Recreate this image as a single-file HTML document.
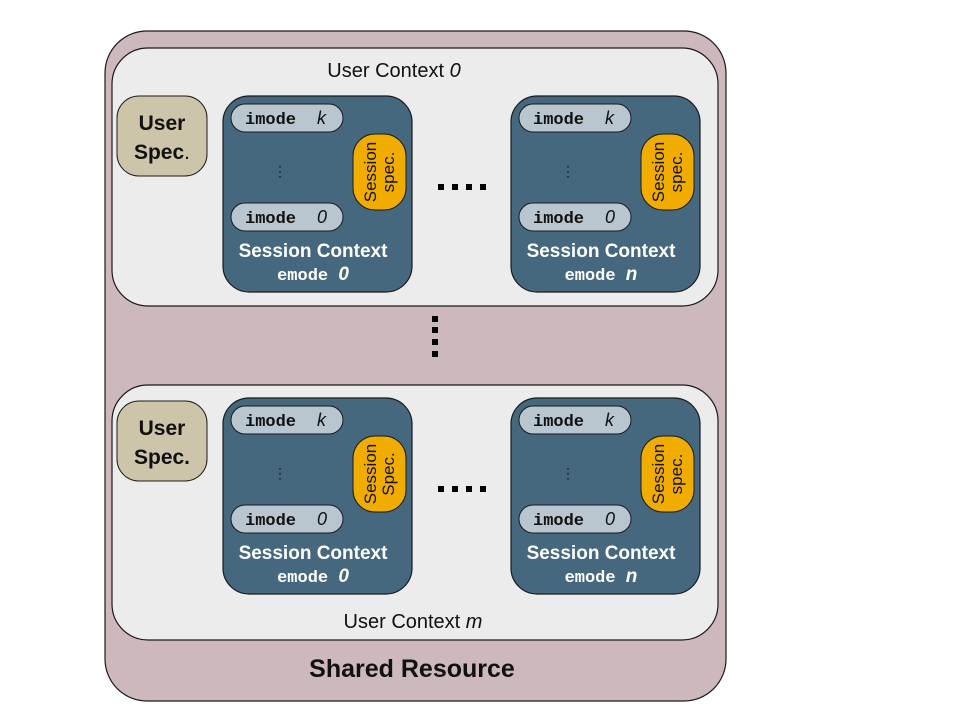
<!DOCTYPE html>
<html><head><meta charset="utf-8"><style>
html,body{margin:0;padding:0;background:#fff}
svg{display:block}
.sans{font-family:"Liberation Sans",sans-serif}
.mono{font-family:"Liberation Mono",monospace}
</style></head><body>
<svg width="960" height="720" viewBox="0 0 960 720" xmlns="http://www.w3.org/2000/svg">
<defs>
<g id="sc">
  <rect x="0" y="0" width="189" height="196" rx="26" fill="#45687e" stroke="#1a1a1a" stroke-width="1.2"/>
  <rect x="8" y="8" width="112" height="28" rx="14" fill="#b9c6cf" stroke="#1a1a1a" stroke-width="1"/>
  <text x="22" y="28" class="mono" font-size="17" font-weight="bold" fill="#111">imode</text>
  <text x="94" y="28" class="sans" font-size="18" font-style="italic" fill="#111">k</text>
  <rect x="8" y="107" width="112" height="28" rx="14" fill="#b9c6cf" stroke="#1a1a1a" stroke-width="1"/>
  <text x="22" y="127" class="mono" font-size="17" font-weight="bold" fill="#111">imode</text>
  <text x="94" y="127" class="sans" font-size="18" font-style="italic" fill="#111">0</text>
  <text x="57" y="80" class="sans" font-size="14" fill="#111" text-anchor="middle">⋮</text>
  <rect x="130" y="38" width="53" height="76" rx="22" fill="#f0ad00" stroke="#1a1a1a" stroke-width="1"/>
  <text x="90" y="161" class="sans" font-size="19" font-weight="bold" fill="#fff" text-anchor="middle">Session Context</text>
</g>
</defs>
<rect x="105" y="31" width="621" height="670" rx="42" fill="#cdb8bb" stroke="#1a1a1a" stroke-width="1.2"/>
<rect x="112" y="48" width="606" height="258" rx="36" fill="#ececec" stroke="#1a1a1a" stroke-width="1.2"/>
<rect x="112" y="385" width="606" height="255" rx="36" fill="#ececec" stroke="#1a1a1a" stroke-width="1.2"/>

<text x="394" y="77" class="sans" font-size="20" fill="#111" text-anchor="middle">User Context <tspan font-style="italic">0</tspan></text>
<text x="413" y="628" class="sans" font-size="20" fill="#111" text-anchor="middle">User Context <tspan font-style="italic">m</tspan></text>
<text x="412" y="677" class="sans" font-size="25" font-weight="bold" fill="#111" text-anchor="middle">Shared Resource</text>

<rect x="117" y="96" width="90" height="80" rx="22" fill="#cdc5a9" stroke="#1a1a1a" stroke-width="1"/>
<text x="162" y="130" class="sans" font-size="21" font-weight="bold" fill="#111" text-anchor="middle">User</text>
<text x="162" y="159" class="sans" font-size="21" font-weight="bold" fill="#111" text-anchor="middle">Spec<tspan font-weight="normal">.</tspan></text>
<rect x="117" y="401" width="90" height="80" rx="22" fill="#cdc5a9" stroke="#1a1a1a" stroke-width="1"/>
<text x="162" y="435" class="sans" font-size="21" font-weight="bold" fill="#111" text-anchor="middle">User</text>
<text x="162" y="464" class="sans" font-size="21" font-weight="bold" fill="#111" text-anchor="middle">Spec.</text>

<g transform="translate(223,96)"><use href="#sc"/>
  <text x="90" y="184" fill="#fff" text-anchor="middle"><tspan class="mono" font-size="17" font-weight="bold">emode </tspan><tspan class="sans" font-size="19" font-weight="bold" font-style="italic">0</tspan></text>
  <g transform="translate(156,76) rotate(-90)" class="sans" font-size="17" fill="#111" text-anchor="middle"><text x="0" y="-3">Session</text><text x="0" y="15">spec.</text></g>
</g>
<g transform="translate(511,96)"><use href="#sc"/>
  <text x="90" y="184" fill="#fff" text-anchor="middle"><tspan class="mono" font-size="17" font-weight="bold">emode </tspan><tspan class="sans" font-size="19" font-weight="bold" font-style="italic">n</tspan></text>
  <g transform="translate(156,76) rotate(-90)" class="sans" font-size="17" fill="#111" text-anchor="middle"><text x="0" y="-3">Session</text><text x="0" y="15">spec.</text></g>
</g>
<g transform="translate(223,398)"><use href="#sc"/>
  <text x="90" y="184" fill="#fff" text-anchor="middle"><tspan class="mono" font-size="17" font-weight="bold">emode </tspan><tspan class="sans" font-size="19" font-weight="bold" font-style="italic">0</tspan></text>
  <g transform="translate(156,76) rotate(-90)" class="sans" font-size="17" fill="#111" text-anchor="middle"><text x="0" y="-3">Session</text><text x="0" y="15">Spec.</text></g>
</g>
<g transform="translate(511,398)"><use href="#sc"/>
  <text x="90" y="184" fill="#fff" text-anchor="middle"><tspan class="mono" font-size="17" font-weight="bold">emode </tspan><tspan class="sans" font-size="19" font-weight="bold" font-style="italic">n</tspan></text>
  <g transform="translate(156,76) rotate(-90)" class="sans" font-size="17" fill="#111" text-anchor="middle"><text x="0" y="-3">Session</text><text x="0" y="15">spec.</text></g>
</g>

<g fill="#000">
  <rect x="438" y="184" width="6" height="6"/><rect x="452" y="184" width="6" height="6"/><rect x="466" y="184" width="6" height="6"/><rect x="480" y="184" width="6" height="6"/>
  <rect x="438" y="486" width="6" height="6"/><rect x="452" y="486" width="6" height="6"/><rect x="466" y="486" width="6" height="6"/><rect x="480" y="486" width="6" height="6"/>
  <rect x="432" y="316" width="6" height="6"/><rect x="432" y="327" width="6" height="6"/><rect x="432" y="339" width="6" height="6"/><rect x="432" y="351" width="6" height="6"/>
</g>
</svg>
</body></html>
